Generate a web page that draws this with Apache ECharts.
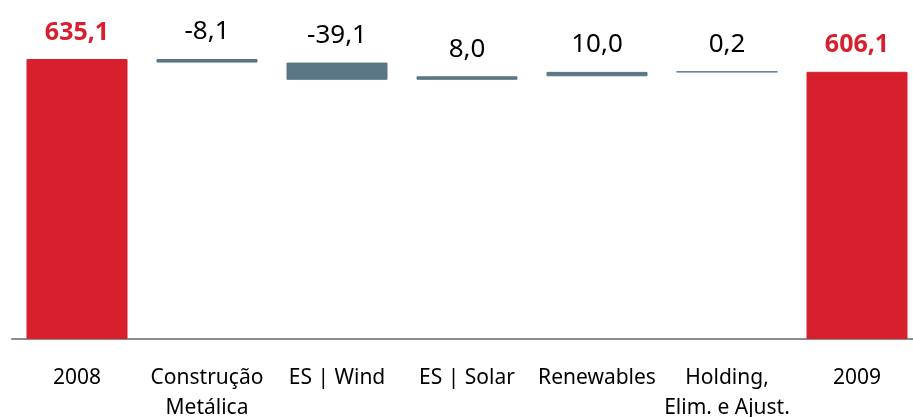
<!DOCTYPE html>
<html lang="pt">
<head>
<meta charset="UTF-8">
<title>Waterfall 2008-2009</title>
<script src="https://cdn.jsdelivr.net/npm/echarts@6/dist/echarts.min.js"></script>
<style>
  html, body { margin: 0; padding: 0; background: #fff; }
  #main { width: 913px; height: 417px; }
</style>
</head>
<body>
<div id="main"></div>
<script>
// dados
var categories = ['2008', 'Construção\nMetálica', 'ES | Wind', 'ES | Solar', 'Renewables', 'Holding,\nElim. e Ajust.', '2009'];
var startValue = 635.1;
var changes = [-8.1, -39.1, 8.0, 10.0, 0.2];
var endValue = 606.1;

var RED = '#d81f2e';
var GREY = '#5b7786';

// base invisível + barra visível (waterfall)
var baseData = [0];
var deltaData = [{ value: startValue, itemStyle: { color: RED, borderColor: RED } }];
var labels = [startValue];
var running = startValue;
for (var i = 0; i < changes.length; i++) {
  var next = running + changes[i];
  baseData.push(Math.min(running, next));
  deltaData.push({ value: Math.abs(changes[i]), itemStyle: { color: GREY, borderColor: GREY } });
  labels.push(changes[i]);
  running = next;
}
baseData.push(0);
deltaData.push({ value: endValue, itemStyle: { color: RED, borderColor: RED } });
labels.push(endValue);

function fmt(v) {
  return v.toFixed(1).replace('.', ',');
}

var myChart = echarts.init(document.getElementById('main'));

var option = {
  animation: false,
  grid: { left: 12, width: 910, top: 59, bottom: 78, outerBoundsMode: 'none', containLabel: false },
  xAxis: {
    type: 'category',
    data: categories,
    axisLine: { lineStyle: { color: '#8c8c8c', width: 2 } },
    axisTick: { show: false },
    axisLabel: {
      interval: 0,
      margin: 24,
      color: '#000',
      fontFamily: 'Noto Sans',
      fontSize: 21,
      lineHeight: 30
    }
  },
  yAxis: {
    type: 'value',
    min: 0,
    max: startValue,
    show: false,
    splitLine: { show: false }
  },
  series: [
    {
      type: 'bar',
      stack: 'wf',
      barWidth: 101,
      itemStyle: { color: 'transparent' },
      data: baseData,
      silent: true
    },
    {
      type: 'bar',
      stack: 'wf',
      barWidth: 101,
      itemStyle: { borderWidth: 1 },
      data: deltaData,
      label: {
        show: true,
        position: 'top',
        distance: 14,
        fontFamily: 'Noto Sans',
        formatter: function (p) {
          var i = p.dataIndex;
          if (i === 0 || i === labels.length - 1) {
            return '{r|' + fmt(labels[i]) + '}';
          }
          return '{k|' + fmt(labels[i]) + '}';
        },
        rich: {
          r: { color: RED, fontWeight: 'bold', fontSize: 25, fontFamily: 'Noto Sans' },
          k: { color: '#000', fontSize: 26, fontFamily: 'Noto Sans' }
        }
      }
    }
  ]
};

myChart.setOption(option);
</script>
</body>
</html>
